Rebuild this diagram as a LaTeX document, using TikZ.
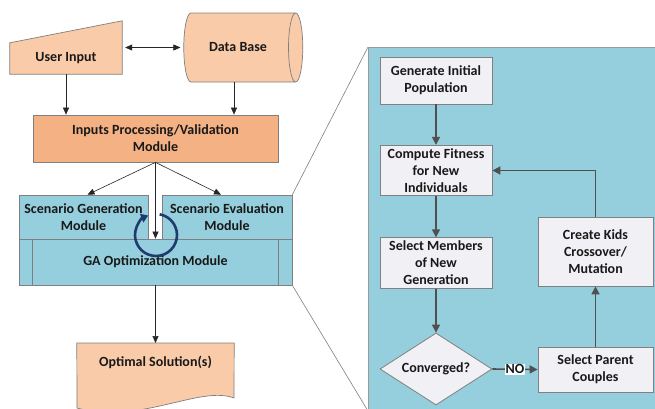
\documentclass[tikz,border=0pt]{standalone}
\usepackage{fontspec}
\setmainfont{Carlito}
\usetikzlibrary{arrows.meta,shapes.geometric,calc}

\definecolor{peach}{HTML}{F9CBA9}
\definecolor{procorange}{HTML}{F4B183}
\definecolor{aqua}{HTML}{95CEDC}
\definecolor{boxgray}{HTML}{F1F0F4}
\definecolor{edgegray}{HTML}{7F7F7F}
\definecolor{arrgray}{HTML}{505050}
\definecolor{loopnavy}{HTML}{1F3A6E}

\tikzset{
  every node/.style={font=\fontsize{14}{17}\selectfont\bfseries, align=center, text=black!90},
  inshape/.style={draw=edgegray, fill=peach, line width=0.7pt},
  procbox/.style={draw=edgegray, fill=procorange, line width=0.7pt},
  modbox/.style={draw=edgegray, fill=aqua, line width=0.7pt},
  gabox/.style={draw=gray, fill=boxgray, line width=0.8pt, minimum width=112pt},
  arr/.style={-{Triangle[length=7pt,width=6pt]}, line width=0.6pt, black!85},
  garr/.style={-{Triangle[length=8pt,width=8pt]}, line width=1.6pt, arrgray},
  zoomline/.style={edgegray, line width=0.6pt}
}

\begin{document}
\begin{tikzpicture}[x=1pt,y=-1pt]
\useasboundingbox (0,0) rectangle (655,408);
\clip (0,0) rectangle (655,408);

% zoomed GA panel
\node[draw=gray!80, fill=aqua, line width=1pt, minimum width=302pt, minimum height=363pt, anchor=north west] (panel) at (368,47) {};

% inputs
\node[minimum width=112pt, minimum height=53pt] (user) at (66,47.5) {};
\draw[inshape] (user.south west) -- (user.south east) -- (user.north east) -- ($(user.north west)+(0,22)$) -- cycle;
\node (usertxt) at (66,58) {User Input};

\node[cylinder, shape aspect=0.9, draw=edgegray, fill=peach, line width=0.7pt,
      minimum width=69pt, minimum height=119pt] (database) at (238,47.5) {Data Base};

\node[procbox, minimum width=245pt, minimum height=47pt] (inputs) at (155.5,138.5) {Inputs Processing/Validation\\Module};

\draw[{Triangle[length=7pt,width=6pt]}-{Triangle[length=7pt,width=6pt]}, line width=0.6pt, black!85, shorten <=3pt, shorten >=3pt] (user.east) -- (database.west);
\draw[arr] (user.south) -- (user.south |- inputs.north);
\draw[arr] ($(database.south)+(-4,0)$) -- ($(database.south |- inputs.north)+(-4,0)$);

% modules
\node[modbox, minimum width=129pt, minimum height=44pt] (scengen) at (83.5,217) {Scenario Generation\\Module};
\node[modbox, minimum width=130pt, minimum height=44pt] (sceneval) at (227,217) {Scenario Evaluation\\Module};
\node[modbox, minimum width=273pt, minimum height=46pt] (gaopt) at (155.5,262) {GA Optimization Module};
\foreach \s/\d in {west/14,east/-14}
{
    \draw[edgegray, line width=0.7pt] ($(gaopt.north \s)+(\d,0)$) -- ($(gaopt.south \s)+(\d,0)$);
}

\draw[arr] (inputs.south) -- ($(scengen.north)+(4,0)$);
\draw[arr] (inputs.south) -- ($(sceneval.north)+(-6,0)$);
\draw[arr] (inputs.south) -- (gaopt.north);

\draw[loopnavy, line width=2.6pt, -{Triangle[length=7pt,width=9pt]}] ($(156,235)+(-80:21)$) arc[start angle=-80, end angle=248, radius=21];

% output
\node[minimum width=157pt, minimum height=55pt, anchor=north] (optsol) at (155.5,343) {};
\draw[inshape] (optsol.north west) -- (optsol.north east) -- (234,398) .. controls (200,385) and (140,425) .. (77,408) -- cycle;
\node (opttxt) at (155.5,362) {Optimal Solution(s)};
\draw[arr] (gaopt.south) -- (optsol.north);

\draw[zoomline] (sceneval.north east) -- (panel.north west);
\draw[zoomline] (gaopt.south east) -- (panel.south west);

% GA steps
\node[gabox, minimum height=47pt] (geninit) at (436,80.5) {Generate Initial\\Population};
\node[gabox, minimum height=45pt] (fitness) at (436,170.5) {Compute Fitness\\for New\\Individuals};
\node[gabox, minimum height=46pt] (selmem) at (436,263) {Select Members\\of New\\Generation};
\node[gabox, diamond, aspect=1.6, inner sep=0pt, minimum height=72pt] (conv) at (436,369) {Converged?};
\node[gabox, minimum width=115pt, minimum height=45pt] (selpar) at (595.5,369.5) {Select Parent\\Couples};
\node[gabox, minimum width=115pt, minimum height=69pt] (kids) at (595.5,251.5) {Create Kids\\Crossover/\\Mutation};

\foreach \a/\b in {geninit/fitness,fitness/selmem,selmem/conv,selpar/kids}
{
    \draw[garr] (\a) -- (\b);
}
\draw[garr] (conv.east) -- node[fill=white, inner sep=1pt] {NO} (selpar.west);
\draw[garr] (kids.north) |- (fitness.east);

\end{tikzpicture}
\end{document}
